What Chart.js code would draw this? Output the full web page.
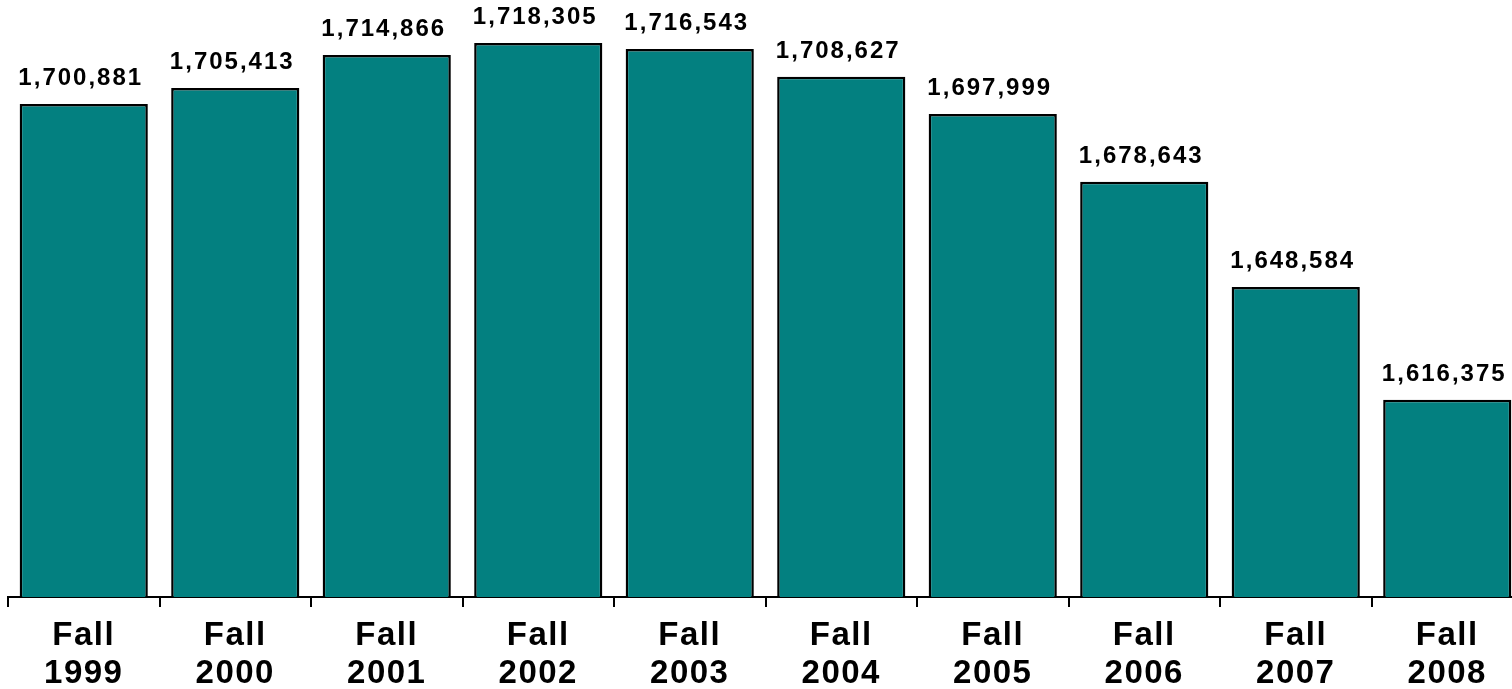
<!DOCTYPE html>
<html>
<head>
<meta charset="utf-8">
<script src="https://cdn.jsdelivr.net/npm/chart.js@4.4.0/dist/chart.umd.min.js"></script>
<style>
html,body{margin:0;padding:0;background:#fff;overflow:hidden;width:1512px;height:689px;}
#wrap{position:absolute;left:0;top:0;width:1532px;height:689px;}
</style>
</head>
<body>
<div id="wrap"><canvas id="c" width="1532" height="689"></canvas></div>
<script>
const categories = [["Fall","1999"],["Fall","2000"],["Fall","2001"],["Fall","2002"],["Fall","2003"],["Fall","2004"],["Fall","2005"],["Fall","2006"],["Fall","2007"],["Fall","2008"]];
const enrollment = [1700881, 1705413, 1714866, 1718305, 1716543, 1708627, 1697999, 1678643, 1648584, 1616375];
const yMin = 1560000;
const yMax = 1720000;

const spacingPlugin = {
  id: 'spacing',
  beforeDraw(chart) { chart.ctx.letterSpacing = '1.5px'; }
};
const valueLabels = {
  id: 'valueLabels',
  afterDatasetsDraw(chart) {
    const ctx = chart.ctx;
    const meta = chart.getDatasetMeta(0);
    ctx.save();
    ctx.letterSpacing = '2px';
    ctx.font = 'bold 24px "Liberation Sans", Arial, sans-serif';
    ctx.fillStyle = '#000';
    ctx.textAlign = 'center';
    ctx.textBaseline = 'alphabetic';
    meta.data.forEach((bar, i) => {
      const v = chart.data.datasets[0].data[i];
      ctx.fillText(v.toLocaleString('en-US'), bar.x - 3, bar.y - 19);
    });
    ctx.restore();
  }
};

new Chart(document.getElementById('c'), {
  type: 'bar',
  data: {
    labels: categories,
    datasets: [{
      data: enrollment,
      backgroundColor: '#038080',
      borderColor: '#000',
      borderWidth: 2.5,
      borderSkipped: false,
      categoryPercentage: 1,
      barPercentage: 0.846
    }]
  },
  options: {
    responsive: false,
    animation: false,
    events: [],
    layout: { padding: { left: 8, right: 9, top: 37, bottom: 0 } },
    plugins: { legend: { display: false }, tooltip: { enabled: false } },
    scales: {
      y: { display: false, min: yMin, max: yMax },
      x: {
        afterFit(scale) { scale.height = 92; },
        border: { display: true, color: '#000', width: 2 },
        grid: { display: true, drawOnChartArea: false, drawTicks: true, tickLength: 10, color: '#000', lineWidth: 2, offset: true },
        ticks: {
          color: '#000',
          padding: 10,
          font: { family: '"Liberation Sans", Arial, sans-serif', size: 33, weight: 'bold', lineHeight: 1.15 },
          maxRotation: 0, autoSkip: false
        }
      }
    }
  },
  plugins: [spacingPlugin, valueLabels]
});
</script>
</body>
</html>
